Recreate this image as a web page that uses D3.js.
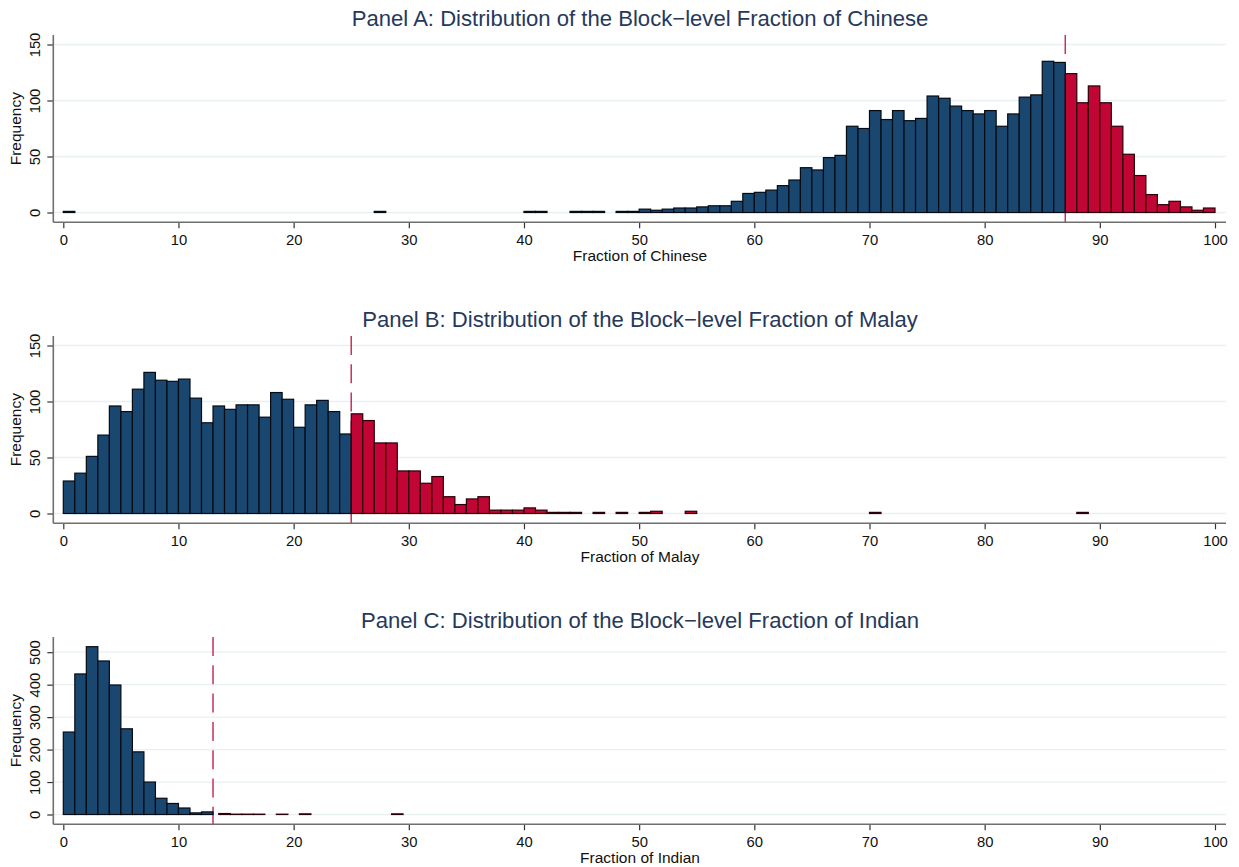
<!DOCTYPE html>
<html>
<head>
<meta charset="utf-8">
<script src="https://cdn.jsdelivr.net/npm/d3@7"></script>
<style>
  html, body { margin: 0; padding: 0; background: #fff; }
  svg { display: block; font-family: "Liberation Sans", Arial, Helvetica, sans-serif; }
</style>
</head>
<body>
<svg id="chart" width="1239" height="867"></svg>
<script>
// Panel A: block-level share of Chinese residents (1-point bins)
const chineseBinStart = [0, 27, 40, 41, 44, 45, 46, 48, 49, 50, 51, 52, 53, 54, 55, 56, 57, 58, 59,
  60, 61, 62, 63, 64, 65, 66, 67, 68, 69, 70, 71, 72, 73, 74, 75, 76, 77, 78, 79,
  80, 81, 82, 83, 84, 85, 86, 87, 88, 89, 90, 91, 92, 93, 94, 95, 96, 97, 98, 99];
const chineseCounts = [1, 1, 1, 1, 1, 1, 1, 1, 1, 3, 2, 3, 4, 4, 5, 6, 6, 10, 17,
  18, 20, 24, 29, 40, 38, 49, 51, 77, 75, 91, 83, 91, 82, 84, 104, 102, 95, 91, 88,
  91, 77, 88, 103, 105, 135, 134, 124, 98, 113, 98, 77, 52, 33, 16, 7, 10, 5, 2, 4];
const chineseCutoff = 87;

// Panel B: block-level share of Malay residents
const malayBinStart = [0, 1, 2, 3, 4, 5, 6, 7, 8, 9, 10, 11, 12, 13, 14, 15, 16, 17, 18, 19,
  20, 21, 22, 23, 24, 25, 26, 27, 28, 29, 30, 31, 32, 33, 34, 35, 36, 37, 38, 39,
  40, 41, 42, 43, 44, 46, 48, 50, 51, 54, 70, 88];
const malayCounts = [29, 36, 51, 70, 96, 91, 111, 126, 119, 118, 120, 103, 81, 96, 93, 97, 97, 86, 108, 102,
  77, 97, 101, 91, 71, 89, 83, 63, 63, 38, 38, 27, 33, 15, 8, 13, 15, 3, 3, 3,
  5, 3, 1, 1, 1, 1, 1, 1, 2, 2, 1, 1];
const malayCutoff = 25;

// Panel C: block-level share of Indian residents
const indianBinStart = [0, 1, 2, 3, 4, 5, 6, 7, 8, 9, 10, 11, 12,
  13.5, 14.5, 15.5, 16.5, 18.5, 20.5, 28.5];
const indianCounts = [254, 433, 517, 473, 399, 264, 193, 100, 50, 34, 20, 5, 8,
  3, 1, 1, 1, 1, 2, 2];
const indianCutoff = 13;

const binWidth = 1;
const xTicks = [0, 10, 20, 30, 40, 50, 60, 70, 80, 90, 100];
const yTicksAB = [0, 50, 100, 150];
const yTicksC = [0, 100, 200, 300, 400, 500];

const panels = [
  { title: "Panel A: Distribution of the Block\u2212level Fraction of Chinese", xLabel: "Fraction of Chinese",
    starts: chineseBinStart, counts: chineseCounts, cutoff: chineseCutoff, yTicks: yTicksAB, yTop: 150, yTopPx: 168 },
  { title: "Panel B: Distribution of the Block\u2212level Fraction of Malay", xLabel: "Fraction of Malay",
    starts: malayBinStart, counts: malayCounts, cutoff: malayCutoff, yTicks: yTicksAB, yTop: 150, yTopPx: 168 },
  { title: "Panel C: Distribution of the Block\u2212level Fraction of Indian", xLabel: "Fraction of Indian",
    starts: indianBinStart, counts: indianCounts, cutoff: indianCutoff, yTicks: yTicksC, yTop: 500, yTopPx: 162.3 }
];

const COLORS = { below: "#1a476f", above: "#c10534", grid: "#e8f0f2", axis: "#6f6f6f",
  title: "#26395c", text: "#111", cutline: "#c8325a" };

const svg = d3.select("#chart");
const axisX0 = 53.3, plotRight = 1226;
const x = d3.scaleLinear().domain([0, 100]).range([63.3, 1215]);
const panelStep = 301;

panels.forEach((p, i) => {
  const off = i * panelStep;
  const top = 35 + off;
  const axisY = 222.3 + off;
  const zeroY = 212.5 + off;
  const y = d3.scaleLinear().domain([0, p.yTop]).range([zeroY, zeroY - p.yTopPx]);
  const g = svg.append("g");

  // title
  g.append("text")
    .attr("x", 640).attr("y", 25.7 + off)
    .attr("text-anchor", "middle")
    .style("font-size", "22.1px").style("fill", COLORS.title)
    .text(p.title);

  // horizontal gridlines
  g.selectAll(".grid").data(p.yTicks).join("line")
    .attr("x1", axisX0).attr("x2", plotRight)
    .attr("y1", d => y(d)).attr("y2", d => y(d))
    .style("stroke", COLORS.grid).style("stroke-width", 1.3);

  // cutoff marker (behind the bars)
  g.append("line")
    .attr("x1", x(p.cutoff)).attr("x2", x(p.cutoff))
    .attr("y1", top).attr("y2", axisY)
    .style("stroke", COLORS.cutline).style("stroke-width", 1.5)
    .style("stroke-dasharray", "19,9.3");

  // bars
  const bins = p.starts.map((s, k) => ({ start: s, count: p.counts[k] }));
  g.selectAll(".bar").data(bins).join("rect")
    .attr("x", d => x(d.start))
    .attr("width", d => x(d.start + binWidth) - x(d.start))
    .attr("y", d => y(d.count))
    .attr("height", d => y(0) - y(d.count))
    .style("fill", d => d.start >= p.cutoff ? COLORS.above : COLORS.below)
    .style("stroke", d => d.start >= p.cutoff ? "#2a0008" : "#050b14")
    .style("stroke-width", 1.2);

  // x axis
  const xa = g.append("g").attr("transform", `translate(0,${axisY})`)
    .call(d3.axisBottom(x).tickValues(xTicks).tickSize(6).tickSizeOuter(0).tickPadding(4));
  xa.select(".domain").remove();
  xa.selectAll(".tick line").style("stroke", "#333").style("stroke-width", 1.2);
  xa.selectAll(".tick text").attr("y", 22.7).attr("dy", 0)
    .style("font-size", "14.8px").style("fill", COLORS.text);
  g.append("line").attr("x1", axisX0).attr("x2", plotRight).attr("y1", axisY).attr("y2", axisY)
    .style("stroke", COLORS.axis).style("stroke-width", 1.6);

  // y axis
  const ya = g.append("g").attr("transform", `translate(${axisX0},0)`)
    .call(d3.axisLeft(y).tickValues(p.yTicks).tickSize(6).tickSizeOuter(0));
  ya.select(".domain").remove();
  ya.selectAll(".tick line").style("stroke", "#333").style("stroke-width", 1.2);
  ya.selectAll(".tick text")
    .attr("transform", "rotate(-90)")
    .attr("x", 0).attr("y", -13.3).attr("dy", 0)
    .style("text-anchor", "middle")
    .style("font-size", "14.8px").style("fill", COLORS.text);
  g.append("line").attr("x1", axisX0).attr("x2", axisX0).attr("y1", top).attr("y2", axisY)
    .style("stroke", COLORS.axis).style("stroke-width", 1.6);

  // axis titles
  g.append("text")
    .attr("x", 640).attr("y", axisY + 38.5)
    .attr("text-anchor", "middle")
    .style("font-size", "15.5px").style("fill", COLORS.text)
    .text(p.xLabel);
  g.append("text")
    .attr("transform", `translate(20.7,${(top + axisY) / 2}) rotate(-90)`)
    .attr("text-anchor", "middle")
    .style("font-size", "15.5px").style("fill", COLORS.text)
    .text("Frequency");
});
</script>
</body>
</html>
